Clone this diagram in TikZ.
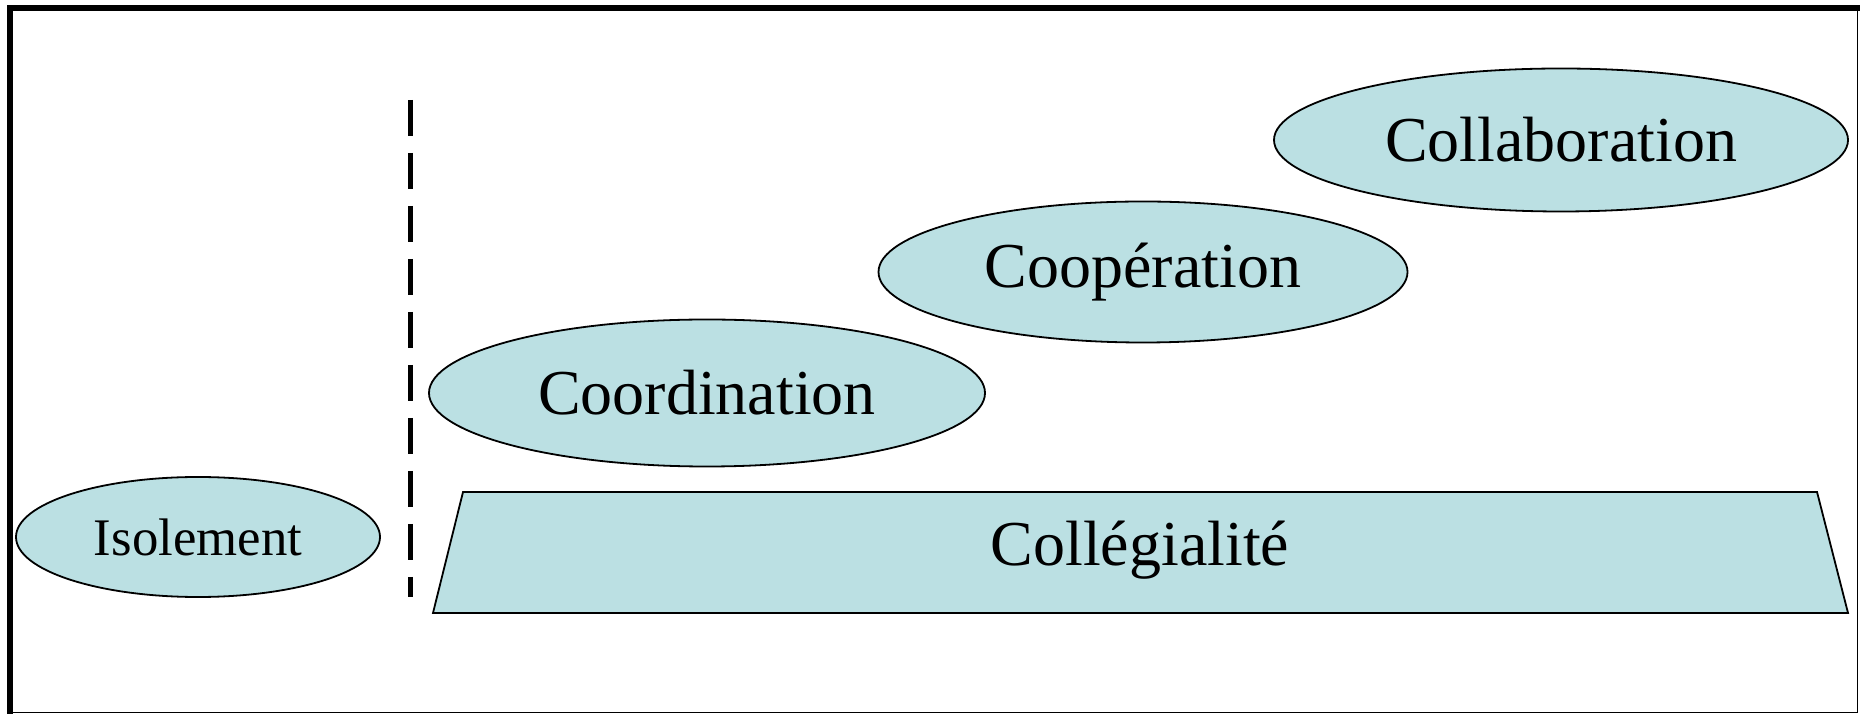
\documentclass[tikz,border=0pt]{standalone}
\usepackage{fontspec}
\setmainfont{Liberation Serif}
\usepackage{tikz}
\usetikzlibrary{shapes.geometric}
\definecolor{Bulle}{RGB}{187,224,227}

\begin{document}
\begin{tikzpicture}[x=0.25pt, y=-0.25pt,
	bulle/.style={draw, line width=0.45pt, ellipse, inner sep=0pt, fill=Bulle, font=\fontsize{16}{18}\selectfont}]
	\useasboundingbox (0,0) rectangle (1860,714);

	\draw[line width=1.5pt] (9.5,714) -- (9.5,8.5) -- (1860,8.5);
	\draw[line width=0.4pt] (9.5,712.5) -- (1857.5,712.5) -- (1857.5,8.5);

	\draw[line width=1.25pt, dash pattern=on 9pt off 4.25pt] (410,100) -- (410,597);

	\node[bulle, minimum width=364*0.25pt, minimum height=120*0.25pt, font=\fontsize{13.2}{15}\selectfont] (isol) at (198,537) {Isolement};
	\node[bulle, minimum width=556*0.25pt, minimum height=147*0.25pt] (coord) at (707,393) {Coordination};
	\node[bulle, minimum width=529*0.25pt, minimum height=141*0.25pt] (coop) at (1143,272) {Coopération};
	\node[bulle, minimum width=574*0.25pt, minimum height=143*0.25pt] (collab) at (1561,140) {Collaboration};

	\draw[line width=0.45pt, fill=Bulle] (463,492) -- (1817,492) -- (1848,613) -- (433,613) -- cycle;
	\node[font=\fontsize{16}{18}\selectfont] (colleg) at (1140,550) {Collégialité};

\end{tikzpicture}
\end{document}
